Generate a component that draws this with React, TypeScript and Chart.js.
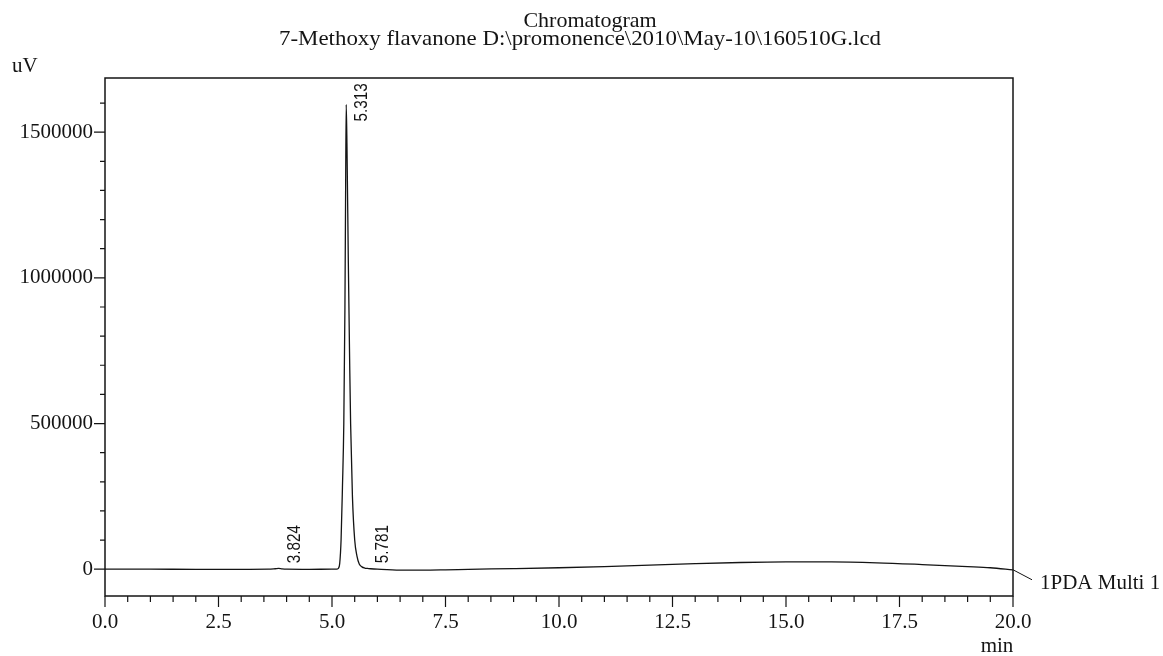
import React, { useEffect, useRef } from 'react';
import { Chart, registerables } from 'chart.js';

Chart.register(...registerables);

// retention time (min) and detector signal (uV)
const times = [
  0, 1, 2, 3, 3.6, 3.75, 3.824, 3.9, 4.0, 4.5, 5.0, 5.1, 5.14, 5.17, 5.2, 5.23, 5.26, 5.285, 5.3, 5.313,
  5.33, 5.36, 5.39, 5.41, 5.45, 5.5, 5.55, 5.6, 5.66, 5.72, 5.781, 5.85, 6.0, 6.5, 7.0, 7.5,
  8.0, 9.0, 10.0, 11.0, 12.0, 13.0, 14.0, 15.0, 16.0, 17.0, 18.0, 19.0, 19.5, 20.0,
];
const signal = [
  0, 0, -500, -500, 0, 1500, 2500, 1000, 0, -500, 0, 0, 3000, 20000, 100000, 280000, 500000, 900000, 1300000, 1595000,
  1450000, 1050000, 700000, 500000, 250000, 100000, 45000, 18000, 8000, 4000, 2500, 1500, 0, -3000, -3000, -2000,
  -500, 2000, 5000, 9000, 14000, 19000, 23000, 25000, 25000, 22000, 16000, 9000, 5000, -2000,
];

const peakTimes = [3.824, 5.313, 5.781];
const peakLabels = ['3.824', '5.313', '5.781'];

const xTicks = [0, 2.5, 5, 7.5, 10, 12.5, 15, 17.5, 20];
const yTicks = [0, 500000, 1000000, 1500000];

const titleLines = ['Chromatogram', '7-Methoxy flavanone D:\\promonence\\2010\\May-10\\160510G.lcd'];
const seriesName = '1PDA Multi 1';

const serif = "'Liberation Serif', 'Times New Roman', serif";
const ink = '#141414';

const decorPlugin = {
  id: 'decor',
  afterDraw(chart: any) {
    const { ctx, chartArea, scales } = chart;
    const xs = scales.x;
    const ys = scales.y;
    const { left, right, top, bottom } = chartArea;

    ctx.save();
    ctx.strokeStyle = ink;
    ctx.lineWidth = 1.5;
    ctx.strokeRect(left, top, right - left, bottom - top);

    // y ticks: major every 500000, minor every 100000
    ctx.lineWidth = 1.2;
    ctx.beginPath();
    for (let v = 0; v <= ys.max; v += 100000) {
      const py = ys.getPixelForValue(v);
      const len = v % 500000 === 0 ? 11 : 5;
      ctx.moveTo(left - len, py);
      ctx.lineTo(left, py);
    }
    // x ticks: major every 2.5, minor every 0.5
    for (let i = 0; i <= 40; i++) {
      const t = i * 0.5;
      const px = xs.getPixelForValue(t);
      const len = i % 5 === 0 ? 11 : 6;
      ctx.moveTo(px, bottom);
      ctx.lineTo(px, bottom + len);
    }
    ctx.stroke();

    // title
    ctx.fillStyle = ink;
    ctx.textBaseline = 'alphabetic';
    ctx.textAlign = 'center';
    ctx.font = `22px ${serif}`;
    ctx.fillText(titleLines[0], 590, 27);
    ctx.save();
    ctx.font = `21px ${serif}`;
    ctx.translate(580, 45);
    ctx.scale(1.09, 1);
    ctx.fillText(titleLines[1], 0, 0);
    ctx.restore();

    // axis units
    ctx.font = `21px ${serif}`;
    ctx.textAlign = 'left';
    ctx.fillText('uV', 12, 72);
    ctx.textAlign = 'center';
    ctx.fillText('min', right - 16, 652);

    // series label with leader line
    const lastX = xs.getPixelForValue(times[times.length - 1]);
    const lastY = ys.getPixelForValue(signal[signal.length - 1]);
    ctx.lineWidth = 1;
    ctx.beginPath();
    ctx.moveTo(lastX, lastY);
    ctx.lineTo(lastX + 19, lastY + 10);
    ctx.stroke();
    ctx.textAlign = 'left';
    ctx.fillText(seriesName, lastX + 27, lastY + 19);

    // peak retention time labels, rotated
    const zeroY = ys.getPixelForValue(0);
    ctx.font = "18px 'Liberation Sans', Arial, sans-serif";
    peakTimes.forEach((t, i) => {
      const idx = times.indexOf(t);
      const px = xs.getPixelForValue(t);
      const py = ys.getPixelForValue(signal[idx]);
      const base = Math.min(py + 17, zeroY - 6);
      ctx.save();
      ctx.translate(px + 16, base);
      ctx.rotate(-Math.PI / 2);
      ctx.scale(0.85, 1);
      ctx.textAlign = 'left';
      ctx.textBaseline = 'middle';
      ctx.fillText(peakLabels[i], 0, 0);
      ctx.restore();
    });
    ctx.restore();
  },
};

const App: React.FC = () => {
  const canvasRef = useRef<HTMLCanvasElement>(null);

  useEffect(() => {
    document.body.style.margin = '0';
    const ctx = canvasRef.current?.getContext('2d');
    if (!ctx) return;

    const chart = new Chart(ctx, {
      type: 'line',
      data: {
        datasets: [
          {
            label: seriesName,
            data: times.map((t, i) => ({ x: t, y: signal[i] })),
            borderColor: ink,
            borderWidth: 1.3,
            pointRadius: 0,
            cubicInterpolationMode: 'monotone',
            fill: false,
          },
        ],
      },
      options: {
        responsive: false,
        animation: false,
        layout: { padding: { left: 0, top: 78, right: 150, bottom: 0 } },
        plugins: {
          legend: { display: false },
          title: { display: false },
          tooltip: { enabled: false },
        },
        scales: {
          x: {
            type: 'linear',
            min: 0,
            max: 20,
            grid: { display: false, drawTicks: false },
            border: { display: false },
            afterBuildTicks: (scale: any) => {
              scale.ticks = xTicks.map((v) => ({ value: v }));
            },
            afterFit: (scale: any) => {
              scale.height = 60;
            },
            ticks: {
              padding: 14,
              maxRotation: 0,
              color: ink,
              font: { family: serif, size: 21 },
              callback: (v: any) => Number(v).toFixed(1),
            },
          },
          y: {
            type: 'linear',
            min: -92000,
            max: 1686000,
            grid: { display: false, drawTicks: false },
            border: { display: false },
            afterBuildTicks: (scale: any) => {
              scale.ticks = yTicks.map((v) => ({ value: v }));
            },
            afterFit: (scale: any) => {
              scale.width = 105;
            },
            ticks: {
              padding: 12,
              color: ink,
              font: { family: serif, size: 21 },
              callback: (v: any) => String(v),
            },
          },
        },
      },
      plugins: [decorPlugin],
    });

    return () => {
      chart.destroy();
    };
  }, []);

  return (
    <div style={{ position: 'relative', width: 1163, height: 656, background: '#fff' }}>
      <canvas ref={canvasRef} width={1163} height={656} />
    </div>
  );
};

export default App;
